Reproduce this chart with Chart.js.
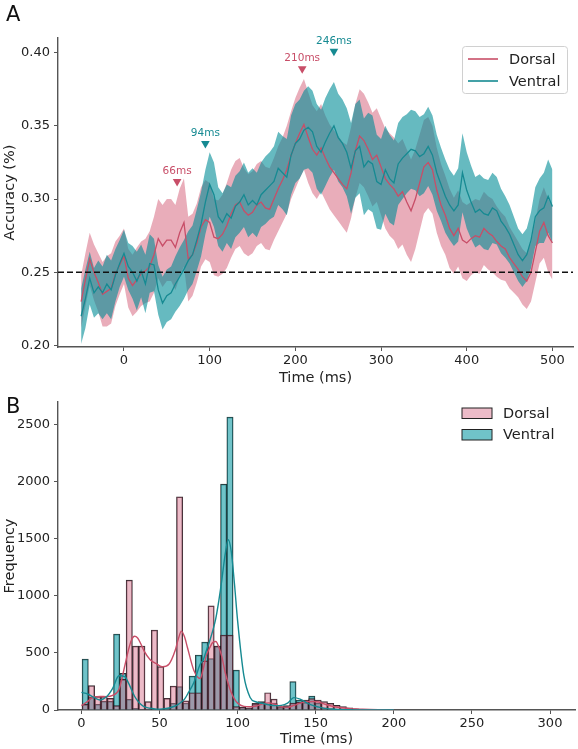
<!DOCTYPE html>
<html>
<head>
<meta charset="utf-8">
<script src="https://cdn.jsdelivr.net/npm/chart.js@4.4.1/dist/chart.umd.min.js"></script>
<style>
  body { margin: 0; background: #fff; }
  canvas { position: absolute; left: 0; }
  #accChart { top: 0; }
  #histChart { top: 385px; }
</style>
</head>
<body>
<canvas id="accChart" width="578" height="388"></canvas>
<canvas id="histChart" width="578" height="364"></canvas>
<script>
// ---- panel A: decoding accuracy, 5 ms steps from -50 to 500 ms ----
const accStart = -50;
const accStep = 5;

const dorsalMean = [
  0.230,0.245,0.259,0.250,0.243,0.235,0.237,0.239,0.249,0.255,
  0.261,0.246,0.241,0.245,0.249,0.251,0.254,0.262,0.273,0.268,
  0.272,0.272,0.267,0.277,0.284,0.259,0.262,0.270,0.281,0.286,
  0.284,0.274,0.273,0.276,0.282,0.290,0.296,0.298,0.292,0.289,
  0.291,0.296,0.298,0.294,0.293,0.300,0.307,0.313,0.320,0.330,
  0.338,0.345,0.351,0.342,0.334,0.330,0.335,0.328,0.322,0.318,
  0.314,0.310,0.307,0.318,0.333,0.343,0.340,0.334,0.327,0.330,
  0.322,0.314,0.310,0.307,0.302,0.305,0.298,0.292,0.300,0.311,
  0.322,0.325,0.320,0.306,0.296,0.289,0.280,0.275,0.280,0.272,
  0.270,0.273,0.275,0.274,0.280,0.277,0.275,0.271,0.268,0.266,
  0.260,0.256,0.252,0.247,0.244,0.250,0.264,0.278,0.284,0.275,
  0.270
];
const dorsalErr = [
  .018,.018,.018,.019,.020,.022,.024,.024,.022,.020,
  .019,.020,.021,.022,.022,.022,.024,.026,.027,.028,
  .028,.028,.029,.030,.030,.029,.028,.027,.027,.027,
  .027,.026,.026,.027,.029,.030,.030,.030,.029,.028,
  .028,.028,.028,.028,.028,.028,.029,.029,.030,.030,
  .031,.031,.031,.031,.030,.030,.030,.029,.029,.029,
  .029,.029,.030,.031,.032,.032,.032,.032,.032,.032,
  .033,.034,.035,.035,.036,.036,.036,.035,.034,.033,
  .032,.031,.030,.029,.028,.027,.027,.026,.026,.026,
  .026,.025,.025,.025,.025,.025,.025,.024,.023,.022,
  .021,.020,.019,.019,.019,.020,.021,.022,.024,.025,
  .025
];
const ventralMean = [
  0.220,0.232,0.246,0.236,0.240,0.236,0.242,0.238,0.248,0.256,
  0.263,0.254,0.250,0.244,0.251,0.242,0.256,0.255,0.238,0.229,
  0.234,0.236,0.242,0.247,0.252,0.258,0.262,0.272,0.283,0.298,
  0.310,0.303,0.288,0.284,0.290,0.287,0.295,0.298,0.303,0.296,
  0.299,0.296,0.303,0.306,0.309,0.312,0.321,0.318,0.315,0.330,
  0.338,0.341,0.347,0.349,0.346,0.336,0.332,0.339,0.345,0.350,
  0.342,0.338,0.332,0.321,0.333,0.336,0.322,0.326,0.324,0.312,
  0.310,0.320,0.314,0.311,0.324,0.328,0.331,0.334,0.333,0.329,
  0.331,0.336,0.330,0.318,0.310,0.302,0.296,0.292,0.296,0.318,
  0.306,0.298,0.291,0.293,0.290,0.289,0.294,0.292,0.285,0.281,
  0.276,0.269,0.262,0.258,0.262,0.272,0.288,0.292,0.294,0.302,
  0.295
];
const ventralErr = [
  .019,.020,.018,.017,.018,.018,.020,.020,.018,.016,
  .016,.016,.018,.020,.018,.020,.020,.018,.017,.018,
  .018,.018,.019,.020,.020,.020,.020,.021,.022,.022,
  .022,.022,.020,.020,.020,.021,.021,.021,.022,.022,
  .022,.022,.022,.023,.023,.024,.025,.025,.026,.027,
  .027,.027,.027,.028,.028,.029,.029,.030,.030,.030,
  .030,.030,.030,.031,.032,.032,.033,.033,.033,.032,
  .031,.030,.030,.029,.028,.028,.027,.027,.027,.027,
  .027,.027,.027,.026,.025,.025,.024,.024,.025,.027,
  .026,.025,.024,.024,.024,.024,.024,.023,.022,.021,
  .020,.019,.018,.018,.018,.019,.020,.022,.024,.025,
  .025
];

const peakLabels = ['66ms', '94ms', '210ms', '246ms'];
const peakTime = [62, 95, 208, 245];
const peakAcc = [0.312, 0.338, 0.389, 0.401];
const peakGroup = ['Dorsal', 'Ventral', 'Dorsal', 'Ventral'];
const chanceLevel = 0.25;

const accTicksX = [0, 100, 200, 300, 400, 500];
const accTicksY = [0.20, 0.25, 0.30, 0.35, 0.40];

// ---- panel B: peak latency histogram (4 ms bins) with kde ----
const binStart = 0.4;
const binWidth = 4.03;
const dorsalCounts = [
  50, 213, 117, 117, 102, 38, 268, 1136, 560, 560,
  73, 700, 379, 102, 210, 1865, 80, 151, 151, 430,
  912, 560, 656, 656, 30, 25, 20, 58, 65, 151,
  95, 29, 30, 60, 70, 87, 100, 87, 73, 58,
  40, 29, 20, 10, 5, 3, 2, 1
];
const ventralCounts = [
  446, 110, 50, 75, 75, 664, 320, 93, 15, 5,
  5, 5, 5, 15, 58, 204, 60, 297, 481, 595,
  450, 560, 1976, 2563, 350, 25, 15, 50, 73, 55,
  60, 20, 38, 248, 87, 65, 122, 60, 20, 10,
  5, 3, 2, 0, 0, 0, 0, 0
];
const kdeTime = [0,4,8,12,16,20,24,28,30,32,34,36,38,40,44,48,52,56,60,62,64,66,68,72,76,78,80,82,84,86,88,90,92,94,96,98,100,104,108,112,116,120,124,128,132,136,140,144,148,152,156,160,164,168,172,176,180,190,200];
const dorsalKde = [38,75,115,118,117,128,180,400,520,610,645,630,580,520,440,405,378,400,520,620,690,640,540,345,275,360,480,540,590,600,550,460,330,230,150,95,60,32,28,35,55,62,48,30,25,40,60,72,75,70,50,35,24,17,12,9,6,2,0];
const ventralKde = [154,140,110,88,115,190,300,290,240,180,120,80,50,30,15,8,10,18,35,50,70,95,140,240,400,440,520,600,690,800,960,1150,1360,1490,1380,1100,780,300,110,70,58,45,38,40,60,108,95,65,40,25,14,9,5,3,2,1,0,0,0];

const histTicksX = [0, 50, 100, 150, 200, 250, 300];
const histTicksY = [0, 500, 1000, 1500, 2000, 2500];

const groupNames = ['Dorsal', 'Ventral'];

// colours
const DORSAL_LINE = 'rgb(200,78,104)';
const VENTRAL_LINE = 'rgb(22,138,146)';
const DORSAL_BAND = 'rgba(212,92,118,0.5)';
const VENTRAL_BAND = 'rgba(0,140,150,0.6)';
const DORSAL_BAR = 'rgba(212,105,132,0.45)';
const VENTRAL_BAR = 'rgba(25,158,168,0.62)';
const AXIS = '#555';

Chart.defaults.font.family = "'DejaVu Sans', sans-serif";
Chart.defaults.color = '#222';

const accTime = dorsalMean.map((_, i) => accStart + i * accStep);
const pts = (ys) => ys.map((y, i) => ({ x: accTime[i], y: y }));

// little plugins for the matplotlib-ish extras
const panelLetter = {
  id: 'panelLetter',
  afterDraw(chart, args, o) {
    const c = chart.ctx;
    c.save();
    c.font = '21px "DejaVu Sans"';
    c.fillStyle = '#111';
    c.fillText(o.text, o.x, o.y);
    c.restore();
  }
};

const boxLegend = {
  id: 'boxLegend',
  afterDraw(chart, args, o) {
    const c = chart.ctx;
    c.save();
    if (o.frame) {
      c.beginPath();
      c.roundRect(o.frame[0], o.frame[1], o.frame[2], o.frame[3], 3);
      c.fillStyle = 'rgba(255,255,255,0.85)';
      c.fill();
      c.strokeStyle = '#d0d0d0';
      c.lineWidth = 1;
      c.stroke();
    }
    c.font = '14.5px "DejaVu Sans"';
    c.textBaseline = 'middle';
    o.items.forEach((it, i) => {
      const y = o.y + i * o.gap;
      if (o.kind === 'line') {
        c.strokeStyle = it.color;
        c.lineWidth = 1.6;
        c.beginPath();
        c.moveTo(o.x, y);
        c.lineTo(o.x + 30, y);
        c.stroke();
      } else {
        c.fillStyle = it.color;
        c.fillRect(o.x, y - 5, 30, 10.5);
        c.strokeStyle = '#222';
        c.lineWidth = 1;
        c.strokeRect(o.x, y - 5, 30, 10.5);
      }
      c.fillStyle = '#222';
      c.fillText(it.label, o.textX, y + 1);
    });
    c.restore();
  }
};

const peakText = {
  id: 'peakText',
  afterDatasetsDraw(chart, args, o) {
    const meta = chart.getDatasetMeta(o.datasetIndex);
    const c = chart.ctx;
    c.save();
    c.font = '10.5px "DejaVu Sans"';
    c.textAlign = 'center';
    c.textBaseline = 'middle';
    meta.data.forEach((pt, i) => {
      c.fillStyle = o.colors[i];
      c.fillText(peakLabels[i], pt.x, pt.y - 10);
    });
    c.restore();
  }
};

const peakColors = peakGroup.map(g => g === 'Dorsal' ? DORSAL_LINE : VENTRAL_LINE);

const axisCommon = {
  grid: { drawOnChartArea: false, drawTicks: true, tickLength: 4, color: AXIS, lineWidth: 1 },
  border: { display: true, color: AXIS, width: 1.4 },
};
const tickFont = { size: 13 };
const titleFont = { size: 14.5 };

new Chart(document.getElementById('accChart'), {
  type: 'line',
  data: {
    datasets: [
      { data: pts(dorsalMean.map((m, i) => m + dorsalErr[i])), borderColor: 'transparent', pointRadius: 0, fill: '+1', backgroundColor: DORSAL_BAND, order: 5 },
      { data: pts(dorsalMean.map((m, i) => m - dorsalErr[i])), borderColor: 'transparent', pointRadius: 0, fill: false, order: 5 },
      { data: pts(ventralMean.map((m, i) => m + ventralErr[i])), borderColor: 'transparent', pointRadius: 0, fill: '+1', backgroundColor: VENTRAL_BAND, order: 4 },
      { data: pts(ventralMean.map((m, i) => m - ventralErr[i])), borderColor: 'transparent', pointRadius: 0, fill: false, order: 4 },
      { label: groupNames[0], data: pts(dorsalMean), borderColor: DORSAL_LINE, borderWidth: 1.3, pointRadius: 0, order: 2 },
      { label: groupNames[1], data: pts(ventralMean), borderColor: VENTRAL_LINE, borderWidth: 1.3, pointRadius: 0, order: 1 },
      { data: [{ x: -77, y: chanceLevel }, { x: 524, y: chanceLevel }], borderColor: '#111', borderWidth: 1.4, borderDash: [6, 3], pointRadius: 0, order: 0 },
      { data: peakTime.map((t, i) => ({ x: t, y: peakAcc[i] })), showLine: false, pointStyle: 'triangle', rotation: 180, pointRadius: 5, pointBorderWidth: 0, pointBackgroundColor: peakColors, order: 0 }
    ]
  },
  options: {
    responsive: false,
    animation: false,
    devicePixelRatio: 1,
    layout: { padding: { top: 38, right: 3, left: 0, bottom: 0 } },
    scales: {
      x: {
        ...axisCommon,
        type: 'linear', min: -77, max: 524,
        afterBuildTicks: s => { s.ticks = accTicksX.map(v => ({ value: v })); },
        afterFit: s => { s.height = 41; },
        ticks: { font: tickFont, padding: 2, maxRotation: 0 },
        title: { display: true, text: 'Time (ms)', font: titleFont, padding: { top: 2, bottom: 1 } }
      },
      y: {
        ...axisCommon,
        min: 0.199, max: 0.41,
        afterBuildTicks: s => { s.ticks = accTicksY.map(v => ({ value: v })); },
        afterFit: s => { s.width = 58; },
        ticks: { font: tickFont, padding: 4, callback: v => v.toFixed(2) },
        title: { display: true, text: 'Accuracy (%)', font: titleFont, padding: { top: 2, bottom: 2 } }
      }
    },
    plugins: {
      legend: { display: false },
      tooltip: { enabled: false },
      panelLetter: { text: 'A', x: 6, y: 21 },
      peakText: { datasetIndex: 7, colors: peakColors },
      boxLegend: {
        kind: 'line', frame: [462.5, 46.5, 105, 47], x: 468, y: 59, gap: 22, textX: 509,
        items: [{ label: groupNames[0], color: DORSAL_LINE }, { label: groupNames[1], color: VENTRAL_LINE }]
      }
    }
  },
  plugins: [panelLetter, peakText, boxLegend]
});

const binCenters = dorsalCounts.map((_, i) => binStart + binWidth * (i + 0.5));

new Chart(document.getElementById('histChart'), {
  type: 'bar',
  data: {
    datasets: [
      { type: 'line', data: kdeTime.map((t, i) => ({ x: t, y: dorsalKde[i] })), borderColor: DORSAL_LINE, borderWidth: 1.4, pointRadius: 0, cubicInterpolationMode: 'monotone', order: 1 },
      { type: 'line', data: kdeTime.map((t, i) => ({ x: t, y: ventralKde[i] })), borderColor: VENTRAL_LINE, borderWidth: 1.4, pointRadius: 0, cubicInterpolationMode: 'monotone', order: 0 },
      { label: groupNames[0], data: binCenters.map((x, i) => ({ x: x, y: dorsalCounts[i] })), backgroundColor: DORSAL_BAR, borderColor: 'rgba(30,20,25,0.9)', borderWidth: 0.8, grouped: false, barPercentage: 1, categoryPercentage: 1, order: 2 },
      { label: groupNames[1], data: binCenters.map((x, i) => ({ x: x, y: ventralCounts[i] })), backgroundColor: VENTRAL_BAR, borderColor: 'rgba(20,30,30,0.9)', borderWidth: 0.8, grouped: false, barPercentage: 1, categoryPercentage: 1, order: 3 }
    ]
  },
  options: {
    responsive: false,
    animation: false,
    devicePixelRatio: 1,
    layout: { padding: { top: 17, right: 3, left: 0, bottom: 0 } },
    scales: {
      x: {
        ...axisCommon,
        type: 'linear', min: -15, max: 316, offset: false,
        grid: { ...axisCommon.grid, offset: false },
        afterBuildTicks: s => { s.ticks = histTicksX.map(v => ({ value: v })); },
        afterFit: s => { s.height = 39; },
        ticks: { font: tickFont, padding: 2, maxRotation: 0 },
        title: { display: true, text: 'Time (ms)', font: titleFont, padding: { top: 2, bottom: 1 } }
      },
      y: {
        ...axisCommon,
        min: 0, max: 2695,
        afterBuildTicks: s => { s.ticks = histTicksY.map(v => ({ value: v })); },
        afterFit: s => { s.width = 58; },
        ticks: { font: tickFont, padding: 4, callback: v => String(v) },
        title: { display: true, text: 'Frequency', font: titleFont, padding: { top: 2, bottom: 2 } }
      }
    },
    plugins: {
      legend: { display: false },
      tooltip: { enabled: false },
      panelLetter: { text: 'B', x: 6, y: 28 },
      boxLegend: {
        kind: 'box', x: 462, y: 28, gap: 21.5, textX: 503,
        items: [{ label: groupNames[0], color: DORSAL_BAR }, { label: groupNames[1], color: VENTRAL_BAR }]
      }
    }
  },
  plugins: [panelLetter, boxLegend]
});
</script>
</body>
</html>
